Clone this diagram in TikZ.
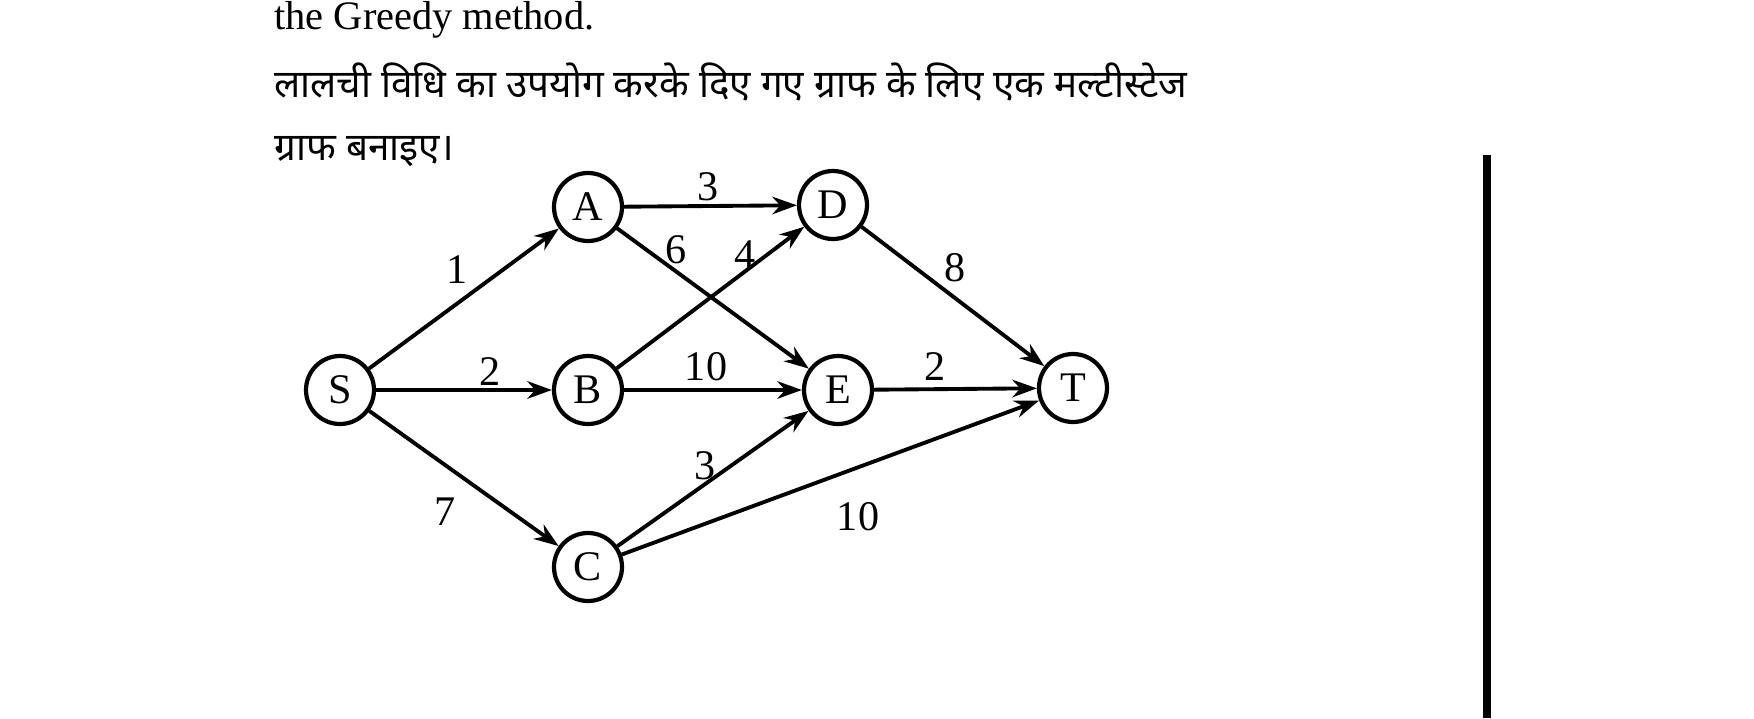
\documentclass[tikz,border=0pt]{standalone}
\usepackage{fontspec}
\setmainfont{Liberation Serif}
\newfontfamily\hindifont[Script=Devanagari]{Noto Sans}
\usetikzlibrary{arrows.meta}
\tikzset{
    vertex/.style={circle, draw, line width=1.2pt, minimum size=0.68cm, inner sep=0pt, font=\fontsize{12}{14}\selectfont},
    edge/.style={-{Stealth[length=7pt,width=5pt]}, line width=1.1pt},
    wt/.style={font=\fontsize{12}{14}\selectfont}
}
\begin{document}
\begin{tikzpicture}
    \useasboundingbox (0,0) rectangle (17.54,7.18);
    \node[anchor=west, font=\fontsize{11.5}{13}\selectfont] (head) at (2.62,6.98) {the Greedy method.};
    \node[anchor=west, font=\hindifont\fontsize{11}{13}\selectfont] (hin1) at (2.62,6.36) {लालची विधि का उपयोग करके दिए गए ग्राफ के लिए एक मल्टीस्टेज};
    \node[anchor=west, font=\hindifont\fontsize{11}{13}\selectfont] (hin2) at (2.62,5.66) {ग्राफ बनाइए।};

    \node[vertex] (S) at (3.40,3.28) {S};
    \node[vertex] (A) at (5.88,5.11) {A};
    \node[vertex] (B) at (5.88,3.28) {B};
    \node[vertex] (C) at (5.88,1.51) {C};
    \node[vertex] (D) at (8.33,5.13) {D};
    \node[vertex] (E) at (8.38,3.28) {E};
    \node[vertex] (T) at (10.73,3.30) {T};

    \draw[edge] (S) -- (A);
    \draw[edge] (S) -- (B);
    \draw[edge] (S) -- (C);
    \draw[edge] (A) -- (D);
    \draw[edge] (A) -- (E);
    \draw[edge] (B) -- (D);
    \draw[edge] (B) -- (E);
    \draw[edge] (C) -- (E);
    \draw[edge] (C) -- (T);
    \draw[edge] (D) -- (T);
    \draw[edge] (E) -- (T);

    \node[wt] (w1) at (4.57,4.48) {1};
    \node[wt] (w2) at (4.90,3.46) {2};
    \node[wt] (w3) at (4.45,2.06) {7};
    \node[wt] (w4) at (7.08,5.31) {3};
    \node[wt] (w5) at (6.76,4.68) {6};
    \node[wt] (w6) at (7.45,4.63) {4};
    \node[wt] (w7) at (7.06,3.51) {10};
    \node[wt] (w8) at (9.55,4.50) {8};
    \node[wt] (w9) at (9.35,3.51) {2};
    \node[wt] (w10) at (7.05,2.52) {3};
    \node[wt] (w11) at (8.58,2.01) {10};

    \draw[line width=2pt] (14.87,5.63) -- (14.87,0);
\end{tikzpicture}
\end{document}
